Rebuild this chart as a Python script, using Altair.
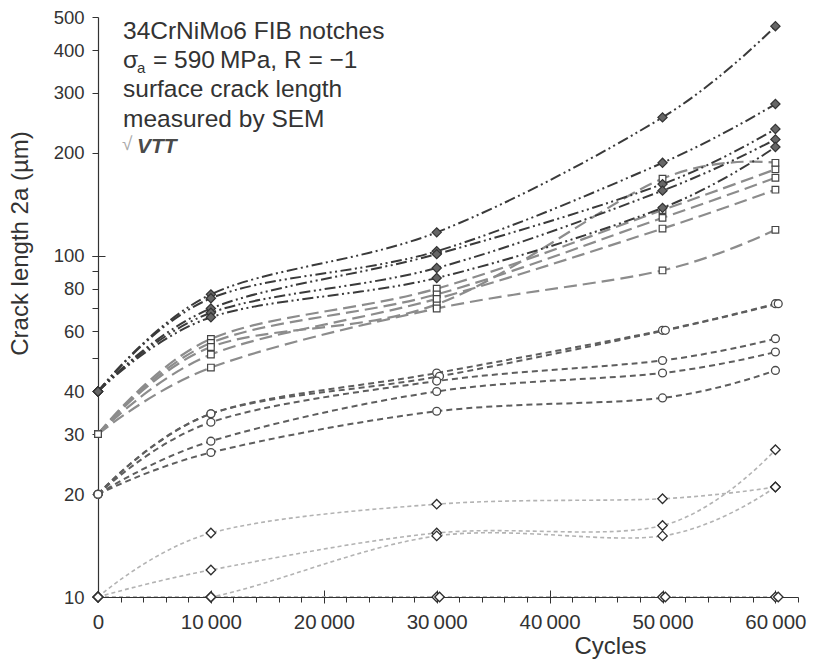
import altair as alt
import pandas as pd

# ---------------- data ----------------
cycles = [0, 10000, 30000, 50000, 60000]
cycles_late = [0, 10000, 30250, 50250, 60250]

# filled diamonds, start 40 µm
dia40_1 = [40, 77, 117, 254, 470]
dia40_2 = [40, 75, 103, 187, 278]
dia40_3 = [40, 70, 101, 162, 235]
dia40_4 = [40, 68, 92, 155, 219]
dia40_5 = [40, 66, 86, 138, 208]

# open squares, start 30 µm
sq30_1 = [30, 57, 80, 136, 179]
sq30_2 = [30, 55.5, 77, 129, 169]
sq30_3 = [30, 54, 72, 168, 187]
sq30_4 = [30, 51.3, 74.7, 120, 156]
sq30_5 = [30, 47, 70, 90.5, 119]

# open circles, start 20 µm
ci20_1 = [20, 34.4, 45.3, 60.4, 72.3]
ci20_2 = [20, 34.4, 44.3, 60.4, 72.3]   # measured at cycles_late
ci20_3 = [20, 32.5, 42.9, 49.3, 57.1]
ci20_4 = [20, 28.6, 40, 45.3, 52.2]
ci20_5 = [20, 26.5, 35, 38.3, 46.1]

# open diamonds, start 10 µm
od10_1 = [10, 15.4, 18.7, 19.4, 21]
od10_2 = [10, 12, 15.4, 16.2, 27]
od10_3 = [10, 10, 15.1, 15.1, 21]
od10_4 = [10, 10, 10, 10, 10]
od10_5 = [10, 10, 10, 10, 10]           # measured at cycles_late

x_major_ticks = [0, 10000, 20000, 30000, 40000, 50000, 60000]
x_minor_ticks = list(range(0, 62001, 2000))
y_tick_values = [10, 20, 30, 40, 50, 60, 70, 80, 90, 100, 200, 300, 400, 500]
y_tick_labels = [10, 20, 30, 40, 60, 80, 100, 200, 300, 400, 500]

series = [
    ("d40", "d40_1", cycles, dia40_1), ("d40", "d40_2", cycles, dia40_2),
    ("d40", "d40_3", cycles, dia40_3), ("d40", "d40_4", cycles, dia40_4),
    ("d40", "d40_5", cycles, dia40_5),
    ("s30", "s30_1", cycles, sq30_1), ("s30", "s30_2", cycles, sq30_2),
    ("s30", "s30_3", cycles, sq30_3), ("s30", "s30_4", cycles, sq30_4),
    ("s30", "s30_5", cycles, sq30_5),
    ("c20", "c20_1", cycles, ci20_1), ("c20", "c20_2", cycles_late, ci20_2),
    ("c20", "c20_3", cycles, ci20_3), ("c20", "c20_4", cycles, ci20_4),
    ("c20", "c20_5", cycles, ci20_5),
    ("o10", "o10_1", cycles, od10_1), ("o10", "o10_2", cycles, od10_2),
    ("o10", "o10_3", cycles, od10_3), ("o10", "o10_4", cycles, od10_4),
    ("o10", "o10_5", cycles_late, od10_5),
]
rows = []
for grp, name, xs, ys in series:
    for xv, yv in zip(xs, ys):
        rows.append({"group": grp, "series": name, "cycles": xv, "length": yv})
df = pd.DataFrame(rows)

FONT = "Liberation Sans"
TXT = "#333333"

xscale = alt.Scale(domain=[0, 62000], nice=False, zero=False)
yscale = alt.Scale(type="log", domain=[10, 500], nice=False)

label_list = ",".join(str(v) for v in y_tick_labels)

main_x_axis = alt.Axis(
    values=x_minor_ticks, tickSize=5, tickColor=TXT, tickWidth=1,
    domainColor=TXT, domainWidth=1.2, grid=False, orient="bottom",
    labelExpr="datum.value % 10000 == 0 ? replace(format(datum.value, ','), ',', '\u2009') : ''",
    labelFont=FONT, labelFontSize=20.5, labelColor=TXT, labelPadding=26,
    labelBaseline="alphabetic", labelFlush=False, labelOverlap=False,
    title="Cycles", titleFont=FONT, titleFontSize=24, titleFontWeight="normal",
    titleColor=TXT, titleX=512, titleY=56, titleBaseline="alphabetic", titleAlign="center",
)
main_y_axis = alt.Axis(
    values=y_tick_values, tickSize=6, tickColor=TXT, tickWidth=1,
    domainColor=TXT, domainWidth=1.2, grid=False, orient="left",
    labelExpr=f"indexof([{label_list}], datum.value) >= 0 ? format(datum.value, 'd') : ''",
    labelFont=FONT, labelFontSize=18.5, labelColor=TXT, labelPadding=8,
    labelOverlap=False,
    title="Crack length 2a (µm)", titleFont=FONT, titleFontSize=24,
    titleFontWeight="normal", titleColor=TXT, titleAngle=270,
    titleX=-70.5, titleY=226, titleBaseline="alphabetic", titleAlign="center",
)
aux_x_axis = alt.Axis(values=x_major_ticks[1:], tickSize=13, offset=-7, domain=False,
                      labels=False, title=None, grid=False, orient="bottom",
                      tickColor=TXT, tickWidth=1)
aux_y_axis = alt.Axis(values=[100], tickSize=13, offset=-7, domain=False,
                      labels=False, title=None, grid=False, orient="left",
                      tickColor=TXT, tickWidth=1)


def enc(chart, xa=None, ya=None):
    return chart.encode(
        x=alt.X("cycles:Q", scale=xscale, axis=xa),
        y=alt.Y("length:Q", scale=yscale, axis=ya),
        detail="series:N",
    )


styles = {
    "o10": dict(color="#b3b3b3", strokeWidth=1.6, strokeDash=[4, 3], clip=True),
    "c20": dict(color="#5e5e5e", strokeWidth=2.0, strokeDash=[6, 4]),
    "s30": dict(color="#8c8c8c", strokeWidth=2.2, strokeDash=[13, 6]),
    "d40": dict(color="#3a3a3a", strokeWidth=2.0, strokeDash=[11, 3.5, 2, 3.5, 2, 3.5]),
}

layers = []
first = True
for g in ["o10", "c20", "s30", "d40"]:
    ch = alt.Chart(df[df.group == g]).mark_line(interpolate="cardinal", tension=0, **styles[g])
    if first:
        layers.append(enc(ch, main_x_axis, main_y_axis))
        first = False
    else:
        layers.append(enc(ch))

pt_styles = {
    "o10": dict(shape="diamond", size=90, filled=True, fill="white", stroke="#2e2e2e", strokeWidth=1.3),
    "c20": dict(shape="circle", size=62, filled=True, fill="white", stroke="#4a4a4a", strokeWidth=1.3),
    "s30": dict(shape="square", size=44, filled=True, fill="white", stroke="#444444", strokeWidth=1.2),
    "d40": dict(shape="diamond", size=85, filled=True, fill="#666666", stroke="#333333", strokeWidth=1.2),
}
for g in ["o10", "c20", "s30", "d40"]:
    ch = alt.Chart(df[df.group == g]).mark_point(opacity=1, **pt_styles[g])
    if g == "o10":
        layers.append(enc(ch, aux_x_axis, aux_y_axis))
    else:
        layers.append(enc(ch))

one = pd.DataFrame({"k": [0]})


def label(text, x, y, size=24.5, color=TXT, weight="normal", style="normal"):
    return alt.Chart(one).mark_text(
        align="left", baseline="alphabetic", font=FONT, fontSize=size,
        color=color, fontWeight=weight, fontStyle=style,
    ).encode(x=alt.value(x), y=alt.value(y), text=alt.value(text))


layers += [
    label("34CrNiMo6 FIB notches", 25, 22),
    label("σ", 25, 51),
    label("a", 39, 56, size=15),
    label("= 590\u2009MPa, R = \u22121", 55, 51),
    label("surface crack length", 25, 80),
    label("measured by SEM", 25, 109.5),
    label("\u221a", 24, 133, size=19, color="#aaaaaa"),
    label("VTT", 39, 136, size=21, color="#4a4a4a", weight="bold", style="italic"),
]

chart = alt.layer(*layers).resolve_axis(x="independent", y="independent").properties(
    width=700, height=580,
    autosize=alt.AutoSizeParams(type="none"),
    padding={"left": 98, "top": 17, "right": 15, "bottom": 65},
    background="white",
).configure_view(stroke=None)

chart.save("out.html", embed_options={"renderer": "svg", "actions": False})
